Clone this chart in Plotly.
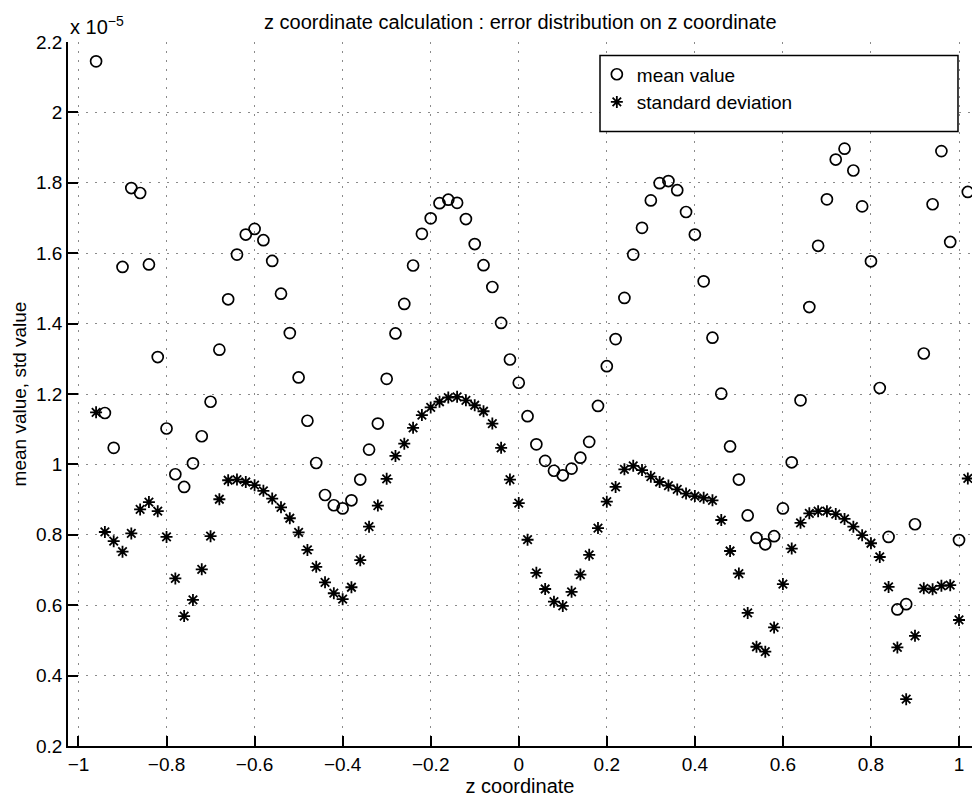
import plotly.graph_objects as go

# z coordinate values (x axis)
z_mean = [-0.96, -0.94, -0.92, -0.90, -0.88, -0.86, -0.84, -0.82, -0.80, -0.78,
          -0.76, -0.74, -0.72, -0.70, -0.68, -0.66, -0.64, -0.62, -0.60, -0.58,
          -0.56, -0.54, -0.52, -0.50, -0.48, -0.46, -0.44, -0.42, -0.40, -0.38,
          -0.36, -0.34, -0.32, -0.30, -0.28, -0.26, -0.24, -0.22, -0.20, -0.18,
          -0.16, -0.14, -0.12, -0.10, -0.08, -0.06, -0.04, -0.02, 0.00, 0.02,
          0.04, 0.06, 0.08, 0.10, 0.12, 0.14, 0.16, 0.18, 0.20, 0.22,
          0.24, 0.26, 0.28, 0.30, 0.32, 0.34, 0.36, 0.38, 0.40, 0.42,
          0.44, 0.46, 0.48, 0.50, 0.52, 0.54, 0.56, 0.58, 0.60, 0.62,
          0.64, 0.66, 0.68, 0.70, 0.72, 0.74, 0.76, 0.78, 0.80, 0.82,
          0.84, 0.86, 0.88, 0.90, 0.92, 0.94, 0.96, 0.98, 1.00, 1.02]
z_std = list(z_mean)

# mean value (x 1e-5)
mean_value = [2.145, 1.146, 1.047, 1.561, 1.785, 1.771, 1.568, 1.305, 1.102, 0.972,
              0.936, 1.003, 1.080, 1.178, 1.326, 1.469, 1.596, 1.653, 1.669, 1.637,
              1.578, 1.485, 1.373, 1.247, 1.124, 1.004, 0.913, 0.884, 0.875, 0.898,
              0.957, 1.042, 1.116, 1.243, 1.372, 1.456, 1.565, 1.655, 1.699, 1.742,
              1.752, 1.743, 1.697, 1.626, 1.566, 1.504, 1.402, 1.298, 1.232, 1.137,
              1.057, 1.010, 0.982, 0.969, 0.988, 1.019, 1.064, 1.166, 1.279, 1.356,
              1.473, 1.596, 1.672, 1.750, 1.799, 1.805, 1.779, 1.717, 1.653, 1.520,
              1.360, 1.201, 1.051, 0.957, 0.855, 0.791, 0.773, 0.796, 0.875, 1.006,
              1.182, 1.447, 1.621, 1.753, 1.866, 1.897, 1.835, 1.733, 1.577, 1.217,
              0.794, 0.588, 0.603, 0.830, 1.315, 1.739, 1.890, 1.632, 0.785, 1.774]

# standard deviation (x 1e-5)
std_value = [1.148, 0.808, 0.782, 0.752, 0.804, 0.872, 0.893, 0.867, 0.794, 0.676,
             0.569, 0.615, 0.702, 0.796, 0.901, 0.955, 0.957, 0.950, 0.941, 0.925,
             0.903, 0.878, 0.847, 0.807, 0.757, 0.709, 0.665, 0.634, 0.617, 0.651,
             0.728, 0.823, 0.883, 0.959, 1.024, 1.059, 1.104, 1.140, 1.162, 1.178,
             1.190, 1.192, 1.182, 1.168, 1.151, 1.116, 1.047, 0.957, 0.890, 0.786,
             0.692, 0.646, 0.610, 0.598, 0.638, 0.687, 0.743, 0.819, 0.894, 0.936,
             0.986, 0.996, 0.984, 0.965, 0.950, 0.940, 0.929, 0.917, 0.910, 0.905,
             0.898, 0.842, 0.754, 0.690, 0.578, 0.482, 0.468, 0.537, 0.660, 0.761,
             0.834, 0.861, 0.867, 0.867, 0.859, 0.845, 0.823, 0.799, 0.776, 0.737,
             0.652, 0.480, 0.333, 0.513, 0.648, 0.645, 0.655, 0.657, 0.558, 0.960]

x_ticks = [-1, -0.8, -0.6, -0.4, -0.2, 0, 0.2, 0.4, 0.6, 0.8, 1]
y_ticks = [0.2, 0.4, 0.6, 0.8, 1.0, 1.2, 1.4, 1.6, 1.8, 2.0, 2.2]
y_tick_labels = ["0.2", "0.4", "0.6", "0.8", "1", "1.2", "1.4", "1.6", "1.8", "2", "2.2"]

FONT = "Liberation Sans, Arial, Helvetica, sans-serif"
FS = 19

fig = go.Figure()
fig.add_trace(go.Scatter(
    x=z_mean, y=mean_value, mode="markers", name="mean value",
    legendgroup="a",
    marker=dict(symbol="circle-open", size=11, color="black",
                line=dict(width=1.7, color="black")),
))
fig.add_trace(go.Scatter(
    x=z_std, y=std_value, mode="markers", name="standard deviation",
    legendgroup="b",
    marker=dict(symbol="asterisk-open", size=10, color="black",
                line=dict(width=1.8, color="black")),
))

grid = dict(showgrid=True, gridcolor="#8a8a8a", gridwidth=1.3, griddash="2px,7px")

fig.update_xaxes(
    range=[-1.0238, 1.0295], tickvals=x_ticks,
    ticks="inside", ticklen=10, tickwidth=1.5, tickcolor="black",
    showline=True, linecolor="black", linewidth=1.6,
    zeroline=False, tickfont=dict(family=FONT, size=FS, color="black"),
    title=dict(text="z coordinate", font=dict(family=FONT, size=20, color="black"), standoff=4),
    **grid,
)
fig.update_yaxes(
    range=[0.2, 2.2], tickvals=y_ticks, ticktext=y_tick_labels,
    ticks="inside", ticklen=10, tickwidth=1.5, tickcolor="black",
    showline=True, linecolor="black", linewidth=1.6,
    zeroline=False, tickfont=dict(family=FONT, size=FS, color="black"),
    title=dict(text="mean value, std value", font=dict(family=FONT, size=FS, color="black"), standoff=4),
    **grid,
)

fig.update_layout(
    width=972, height=803,
    margin=dict(l=68, r=0, t=42, b=57),
    paper_bgcolor="white", plot_bgcolor="white",
    font=dict(family=FONT, color="black"),
    showlegend=True,
    legend=dict(x=0.585, y=0.981, xanchor="left", yanchor="top",
                bgcolor="rgba(0,0,0,0)", borderwidth=0,
                font=dict(family=FONT, size=FS, color="black"),
                traceorder="grouped", tracegroupgap=0),
    shapes=[dict(type="rect", xref="paper", yref="paper",
                 x0=0.5885, x1=0.9845, y0=0.873, y1=0.981,
                 line=dict(color="black", width=1.5), fillcolor="white", layer="above")],
    annotations=[
        dict(text="z coordinate calculation : error distribution on z coordinate",
             xref="paper", yref="paper", x=0.501, y=1.0, yshift=20,
             xanchor="center", yanchor="middle", showarrow=False,
             font=dict(family=FONT, size=20, color="black")),
        dict(text="x 10<sup>−5</sup>", xref="paper", yref="paper", x=0.0, y=1.0,
             yshift=17, xanchor="left", yanchor="middle", showarrow=False,
             font=dict(family=FONT, size=20, color="black")),
    ],
)

fig.write_html("out.html")
